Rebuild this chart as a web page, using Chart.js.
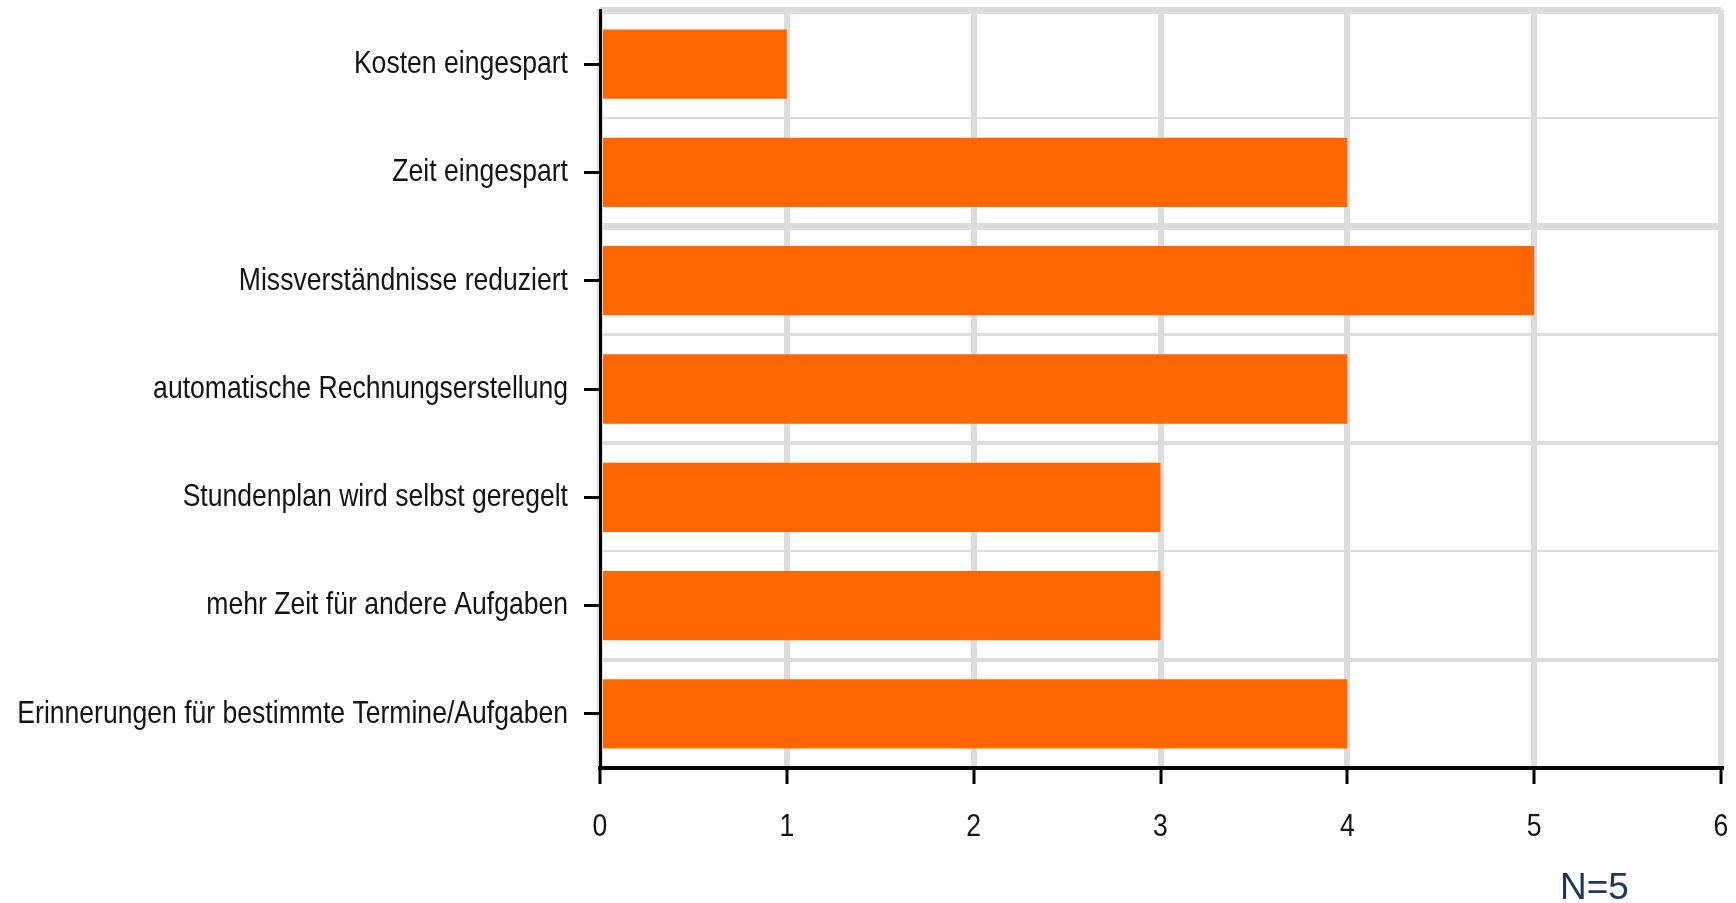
<!DOCTYPE html>
<html>
<head>
<meta charset="utf-8">
<script src="https://cdn.jsdelivr.net/npm/chart.js@4.4.1/dist/chart.umd.min.js"></script>
<style>
  html, body { margin: 0; padding: 0; background: #ffffff; }
  #wrap { position: relative; width: 1736px; height: 903px; overflow: hidden; }
  #note {
    position: absolute; left: 1560px; top: 868px;
    font: 37px "Liberation Sans", Arial, sans-serif; color: #1b365f;
    white-space: nowrap; line-height: 1;
  }
</style>
</head>
<body>
<div id="wrap">
  <canvas id="c" width="1736" height="903"></canvas>
  <div id="note"></div>
</div>
<script>
// Survey answers: benefits reported by respondents
const categories = [
  'Kosten eingespart',
  'Zeit eingespart',
  'Missverständnisse reduziert',
  'automatische Rechnungserstellung',
  'Stundenplan wird selbst geregelt',
  'mehr Zeit für andere Aufgaben',
  'Erinnerungen für bestimmte Termine/Aufgaben'
];
const counts = [1, 4, 5, 4, 3, 3, 4];
const countTicks = [0, 1, 2, 3, 4, 5, 6];
const sampleNote = 'N=5';

document.getElementById('note').textContent = sampleNote;

// Narrow label face: Arial-metric sans squeezed horizontally
const labelFamily = "'Liberation Sans', Arial, sans-serif";
const labelSize = 32;
const labelSqueeze = 0.83;
const labelColor = '#141414';

// Separator line weights between the category rows
const rowRuleWidths = [7, 2, 7, 3, 4, 2, 4, 3];

const narrowLabels = {
  id: 'narrowLabels',
  afterDraw(chart) {
    const { ctx, scales: { x, y } } = chart;
    ctx.save();
    ctx.font = `${labelSize}px ${labelFamily}`;
    ctx.fillStyle = labelColor;
    ctx.textBaseline = 'middle';

    // category names, right-aligned left of the tick marks
    ctx.textAlign = 'right';
    y.ticks.forEach((t, i) => {
      ctx.save();
      ctx.translate(x.left - 32, y.getPixelForTick(i));
      ctx.scale(labelSqueeze, 1);
      ctx.fillText(y.getLabelForValue(t.value), 0, 0);
      ctx.restore();
    });

    // count values under the horizontal axis
    ctx.textAlign = 'center';
    x.ticks.forEach((t, i) => {
      ctx.save();
      ctx.translate(x.getPixelForTick(i), x.top + 59);
      ctx.scale(labelSqueeze, 1);
      ctx.fillText(String(t.value), 0, 0);
      ctx.restore();
    });
    ctx.restore();
  }
};

new Chart(document.getElementById('c'), {
  type: 'bar',
  data: {
    labels: categories,
    datasets: [{
      data: counts,
      backgroundColor: '#ff6600',
      borderWidth: 0,
      barPercentage: 0.8,
      categoryPercentage: 0.8,
      xAxisID: 'x',
      yAxisID: 'y'
    }]
  },
  options: {
    indexAxis: 'y',
    responsive: false,
    animation: false,
    layout: { padding: { top: 10, right: 15, left: 0, bottom: 0 } },
    plugins: { legend: { display: false }, tooltip: { enabled: false } },
    scales: {
      x: {
        type: 'linear',
        min: countTicks[0],
        max: countTicks[countTicks.length - 1],
        afterBuildTicks(scale) { scale.ticks = countTicks.map(v => ({ value: v })); },
        ticks: { display: false },
        grid: { color: '#dcdcdc', lineWidth: 6, tickColor: '#000000', tickWidth: 3, tickLength: 16 },
        border: { color: '#000000', width: 4 },
        afterFit(scale) { scale.height = 135; }
      },
      y: {
        type: 'category',
        offset: true,
        ticks: { display: false },
        grid: { offset: false, drawOnChartArea: false, tickColor: '#000000', tickWidth: 3, tickLength: 16 },
        border: { color: '#000000', width: 3 },
        afterFit(scale) { scale.width = 600; }
      },
      yGrid: {
        type: 'category',
        labels: categories,
        position: 'right',
        offset: true,
        ticks: { display: false },
        grid: {
          offset: true,
          color: '#dcdcdc',
          lineWidth: (c) => rowRuleWidths[c.index] ?? 3,
          drawTicks: false
        },
        border: { display: false }
      }
    }
  },
  plugins: [narrowLabels]
});
</script>
</body>
</html>
